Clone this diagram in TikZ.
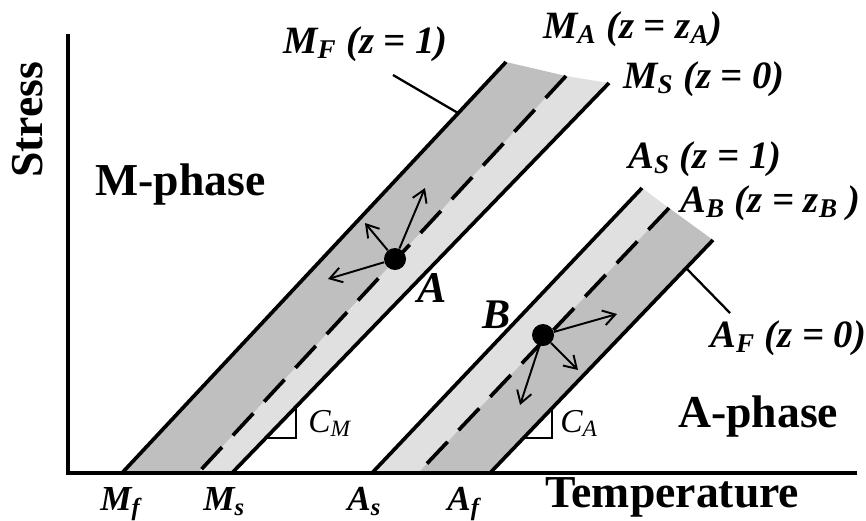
\documentclass[tikz,border=0pt]{standalone}
\usepackage{fontspec}
\setmainfont{Liberation Serif}
\usepackage{tikz}
\usetikzlibrary{arrows.meta,positioning}
\definecolor{bandd}{RGB}{191,191,191}
\definecolor{bandl}{RGB}{224,224,224}

\begin{document}
\begin{tikzpicture}[x=0.2mm,y=-0.2mm,>={Straight Barb[length=2.4mm,width=3mm]},
  phase/.style={font=\fontsize{26}{30}\selectfont\bfseries,inner sep=0pt},
  bline/.style={line width=2.1pt},
  midline/.style={line width=2.1pt,dash pattern=on 6mm off 3.2mm},
  lbl/.style={font=\fontsize{22}{26}\selectfont\bfseries\itshape,inner sep=0pt,anchor=base west},
  tlbl/.style={font=\fontsize{20}{24}\selectfont\bfseries\itshape,inner sep=0pt,anchor=base west},
  leader/.style={line width=1.3pt},
  state/.style={circle,fill,inner sep=0pt,minimum size=4.4mm},
  move/.style={->,line width=1.1pt}]
  \useasboundingbox (0,0) rectangle (866,520);
  % bands
  \fill[bandd] (122,473) -- (506,62) -- (566,76) -- (198,473) -- cycle;
  \fill[bandl] (198,473) -- (566,76) -- (609,83) -- (232,473) -- cycle;
  \fill[bandl] (372,473) -- (642,188) -- (669,208) -- (418,473) -- cycle;
  \fill[bandd] (418,473) -- (669,208) -- (713,240) -- (490,473) -- cycle;
  % axes
  \draw[line width=1.8pt] (68,34) -- (68,473) -- (857,473);
  % transformation lines
  \draw[bline] (122,473) -- (506,62);
  \draw[midline] (566,76) -- (198,473);
  \draw[bline] (232,473) -- (609,83);
  \draw[bline] (372,473) -- (642,188);
  \draw[midline] (669,208) -- (418,473);
  \draw[bline] (490,473) -- (713,240);
  % slope marks
  \draw[line width=1.6pt] (266,438) -- (296,438) -- (296,407);
  \draw[line width=1.6pt] (524,438) -- (552,438) -- (552,408);
  % line labels
  \node[lbl] (mflbl) at (283,53) {M\textsubscript{F} (z = 1)};
  \node[lbl] (malbl) at (543,38) {M\textsubscript{A} (z = z\textsubscript{A})};
  \node[lbl] (mslbl) at (623,88) {M\textsubscript{S} (z = 0)};
  \node[lbl] (aslbl) at (628,168) {A\textsubscript{S} (z = 1)};
  \node[lbl] (ablbl) at (680,212) {A\textsubscript{B} (z = z\textsubscript{B} )};
  \node[lbl] (aflbl) at (710,347) {A\textsubscript{F} (z = 0)};
  \coordinate (mfend) at (393,75);
  \coordinate (mfhit) at (458,113);
  \coordinate (afhit) at (686,268);
  \coordinate (afend) at (730,313);
  \draw[leader] (mfend) -- (mfhit);
  \draw[leader] (afhit) -- (afend);
  % states
  \node[state] (ptA) at (395,259) {};
  \node[state] (ptB) at (543,335) {};
  \foreach \p in {(425,188),(365,223),(328,279)} \draw[move] (ptA) -- \p;
  \foreach \p in {(617,314),(578,370),(520,405)} \draw[move] (ptB) -- \p;
  \node[lbl,font=\fontsize{25}{28}\selectfont\bfseries\itshape] (alab) at (417,302) {A};
  \node[lbl,font=\fontsize{24}{28}\selectfont\bfseries\itshape] (blab) at (482,328) {B};
  \node[lbl,font=\fontsize{19}{22}\selectfont\itshape] (cmlab) at (308,432) {C\textsubscript{M}};
  \node[lbl,font=\fontsize{19}{22}\selectfont\itshape] (calab) at (560,432) {C\textsubscript{A}};
  % phases and axes
  \node[phase,anchor=base west] (mph) at (95,195) {M-phase};
  \node[phase,anchor=base west] (aph) at (678,427) {A-phase};
  \node[phase,anchor=base west] (temp) at (545,507) {Temperature};
  \node[phase,rotate=90] (stress) at (28,120) {Stress};
  \node[tlbl] (mf) at (100,510) {M\textsubscript{f}};
  \node[tlbl] (ms) at (203,510) {M\textsubscript{s}};
  \node[tlbl] (as) at (347,510) {A\textsubscript{s}};
  \node[tlbl] (af) at (447,510) {A\textsubscript{f}};
\end{tikzpicture}
\end{document}
